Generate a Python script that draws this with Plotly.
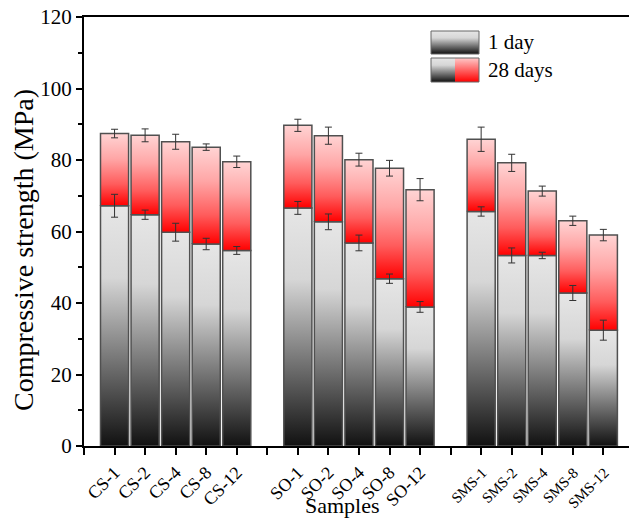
import plotly.graph_objects as go

# ---------------- data ----------------
groups = ["CS", "SO", "SMS"]
samples = ["CS-1", "CS-2", "CS-4", "CS-8", "CS-12",
           "SO-1", "SO-2", "SO-4", "SO-8", "SO-12",
           "SMS-1", "SMS-2", "SMS-4", "SMS-8", "SMS-12"]
day1 = [67.2, 64.7, 59.8, 56.5, 54.7,
        66.6, 62.7, 56.8, 46.8, 38.9,
        65.6, 53.3, 53.3, 42.8, 32.4]
day1_err = [3.2, 1.3, 2.5, 1.6, 1.1,
            1.8, 2.2, 2.2, 1.3, 1.5,
            1.3, 2.1, 0.9, 2.1, 2.8]
day28 = [87.4, 86.9, 85.1, 83.6, 79.5,
         89.7, 86.8, 80.1, 77.7, 71.7,
         85.8, 79.2, 71.3, 63.0, 59.0]
day28_err = [1.2, 1.8, 2.1, 0.9, 1.6,
             1.7, 2.4, 1.8, 2.2, 3.1,
             3.4, 2.4, 1.4, 1.3, 1.6]
y_ticks = [0, 20, 40, 60, 80, 100, 120]
legend_labels = ["1 day", "28 days"]

# ---------------- styles ----------------
FONT = "Liberation Serif"
GRAY_SCALE = [[0, "#111111"], [0.7, "#d6d6d6"], [1, "#e6e6e6"]]
RED_SCALE = [[0, "#ff0000"], [0.3, "#ff5c5c"], [0.65, "#ffa6a6"], [1, "#ffd4d4"]]
OUTLINE = "#505050"
BAR_W = 0.92

W, H = 629, 519
ML, MR, MT, MB = 84, 0, 17, 73
PX_PER_UNIT = 30.55
x_max = (W - ML - MR) / PX_PER_UNIT

# positions: 5 bars per group, one empty slot between groups
positions = []
for g in range(len(groups)):
    for i in range(5):
        positions.append(g * 6 + i + 1)

fig = go.Figure()


def bar_poly(xc, y0, y1, scale, line_color=OUTLINE, half=BAR_W / 2):
    return go.Scatter(
        x=[xc - half, xc + half, xc + half, xc - half, xc - half],
        y=[y0, y0, y1, y1, y0],
        mode="lines",
        fill="toself",
        fillgradient=dict(type="vertical", colorscale=scale, start=y0, stop=y1),
        line=dict(color=line_color, width=1.5),
        showlegend=False, hoverinfo="skip",
    )


for p, a, b in zip(positions, day1, day28):
    fig.add_trace(bar_poly(p, 0, a, GRAY_SCALE))
    fig.add_trace(bar_poly(p, a, b, RED_SCALE))

# error bars
fig.add_trace(go.Scatter(
    x=positions, y=day1, mode="markers",
    marker=dict(size=1, color="rgba(0,0,0,0)"),
    error_y=dict(type="data", array=day1_err, color="#333333", thickness=1, width=3.5),
    showlegend=False, hoverinfo="skip"))
fig.add_trace(go.Scatter(
    x=positions, y=day28, mode="markers",
    marker=dict(size=1, color="rgba(0,0,0,0)"),
    error_y=dict(type="data", array=day28_err, color="#333333", thickness=1, width=3.5),
    showlegend=False, hoverinfo="skip"))

# ---------------- custom legend (pixel-space overlay axes) ----------------
lx0, lx1, lxm = 431, 479, 455
fig.add_trace(go.Scatter(
    x=[lx0, lx1, lx1, lx0, lx0], y=[54, 54, 31, 31, 54], mode="lines", fill="toself",
    fillgradient=dict(type="vertical", colorscale=GRAY_SCALE, start=54, stop=31),
    line=dict(color="#666666", width=1), xaxis="x2", yaxis="y2",
    showlegend=False, hoverinfo="skip"))
fig.add_trace(go.Scatter(
    x=[lx0, lxm, lxm, lx0, lx0], y=[82, 82, 58, 58, 82], mode="lines", fill="toself",
    fillgradient=dict(type="vertical", colorscale=GRAY_SCALE, start=82, stop=58),
    line=dict(color="rgba(0,0,0,0)", width=0), xaxis="x2", yaxis="y2",
    showlegend=False, hoverinfo="skip"))
fig.add_trace(go.Scatter(
    x=[lxm, lx1, lx1, lxm, lxm], y=[82, 82, 58, 58, 82], mode="lines", fill="toself",
    fillgradient=dict(type="vertical", colorscale=[[0, "#ff0000"], [1, "#ffc8c8"]], start=82, stop=58),
    line=dict(color="rgba(0,0,0,0)", width=0), xaxis="x2", yaxis="y2",
    showlegend=False, hoverinfo="skip"))
fig.add_trace(go.Scatter(
    x=[lx0, lx1, lx1, lx0, lx0], y=[82, 82, 58, 58, 82], mode="lines",
    line=dict(color="#666666", width=1), xaxis="x2", yaxis="y2",
    showlegend=False, hoverinfo="skip"))

annotations = [
    dict(x=486, y=42, xref="x2", yref="y2", text=legend_labels[0], showarrow=False,
         xanchor="left", yanchor="middle", font=dict(family=FONT, size=21, color="black")),
    dict(x=486, y=70, xref="x2", yref="y2", text=legend_labels[1], showarrow=False,
         xanchor="left", yanchor="middle", font=dict(family=FONT, size=21, color="black")),
    dict(x=(24 - ML) / (W - ML - MR), y=(446 - 250) / (H - MT - MB), xref="paper", yref="paper",
         text="Compressive strength (MPa)", textangle=-90, showarrow=False,
         xanchor="center", yanchor="middle", font=dict(family=FONT, size=28, color="black")),
    dict(x=(342 - ML) / (W - ML - MR), y=(446 - 505) / (H - MT - MB), xref="paper", yref="paper",
         text="Samples", showarrow=False, xanchor="center", yanchor="middle",
         font=dict(family=FONT, size=22, color="black")),
]

# x tick labels
tickvals = list(range(0, 18))
ticktext = [""] * 18
for p, s in zip(positions, samples):
    if s.startswith("SMS"):
        ticktext[p] = '<span style="font-size:15px">' + s + "</span>"
    else:
        ticktext[p] = s

fig.update_layout(
    width=W, height=H,
    margin=dict(l=ML, r=MR, t=MT, b=MB, pad=0),
    paper_bgcolor="white", plot_bgcolor="white",
    font=dict(family=FONT, color="black"),
    showlegend=False,
    annotations=annotations,
    xaxis=dict(
        range=[0, x_max], tickmode="array", tickvals=tickvals, ticktext=ticktext,
        tickangle=-45, tickfont=dict(family=FONT, size=18, color="black"),
        ticks="outside", ticklen=7, tickwidth=1.5, tickcolor="black",
        showline=True, linecolor="black", linewidth=2, mirror=True,
        showgrid=False, zeroline=False,
    ),
    yaxis=dict(
        range=[0, 120], tickmode="array", tickvals=y_ticks,
        tickfont=dict(family=FONT, size=21, color="black"),
        ticks="outside", ticklen=6, tickwidth=1.5, tickcolor="black",
        minor=dict(dtick=10, ticks="outside", ticklen=4, tickwidth=1.5, tickcolor="black"),
        showline=True, linecolor="black", linewidth=2,
        showgrid=False, zeroline=False,
    ),
    xaxis2=dict(range=[ML, W - MR], overlaying="x", visible=False, fixedrange=True),
    yaxis2=dict(range=[H - MB, MT], overlaying="y", visible=False, fixedrange=True),
)

fig.write_html("out.html")
